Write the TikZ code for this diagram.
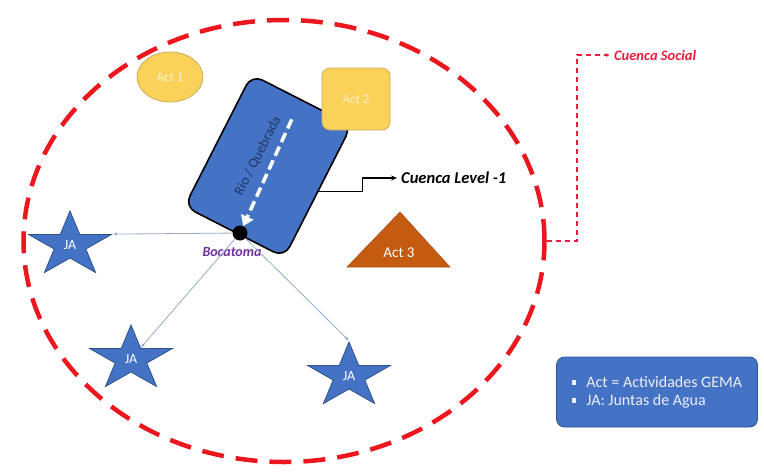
\documentclass[tikz,border=0pt]{standalone}
\usepackage{fontspec}
\setmainfont{Carlito}
\usetikzlibrary{shapes.geometric,arrows.meta,calc}

\definecolor{basinred}{RGB}{236,22,30}
\definecolor{socialred}{RGB}{232,30,60}
\definecolor{shapeblue}{RGB}{68,114,196}
\definecolor{stardraw}{RGB}{47,82,143}
\definecolor{actyellow}{RGB}{250,210,90}
\definecolor{actedge}{RGB}{205,172,96}
\definecolor{acttext}{RGB}{255,240,200}
\definecolor{actorange}{RGB}{197,90,17}
\definecolor{navytext}{RGB}{31,56,100}
\definecolor{intakepurple}{RGB}{112,48,160}
\definecolor{feedgrey}{RGB}{150,170,200}
\definecolor{legendtext}{RGB}{238,238,252}

\newcommand\lgdbullet{\raisebox{2.5pt}{\rule{4.5pt}{4.5pt}}\hspace{10pt}}

\begin{document}
\begin{tikzpicture}[x=1pt,y=-1pt,
  basin/.style={ellipse, draw=basinred, line width=4.5pt,
    dash pattern=on 22pt off 12pt, minimum width=521pt, minimum height=442pt, inner sep=0},
  riverbox/.style={rectangle, draw=black, line width=1.6pt, fill=shapeblue,
    rounded corners=12pt, minimum width=112pt, minimum height=148pt, rotate=-27},
  riverflow/.style={draw=white, line width=3.5pt, dash pattern=on 10pt off 5pt,
    -{Triangle[width=13pt,length=10pt]}},
  rivertext/.style={text=navytext, font=\fontsize{14}{16}\selectfont, rotate=63, inner sep=0},
  actoval/.style={ellipse, fill=actyellow, draw=actedge, line width=0.8pt,
    minimum width=66pt, minimum height=50pt, inner sep=0, text=acttext,
    font=\fontsize{13}{15}\selectfont},
  actbox/.style={rectangle, rounded corners=8pt, fill=actyellow, draw=actedge,
    line width=0.8pt, minimum width=68pt, minimum height=62pt, inner sep=0,
    text=acttext, font=\fontsize{13}{15}\selectfont},
  acttri/.style={fill=actorange, draw=actorange!85!black, line width=0.5pt},
  actlabel/.style={text=white, font=\fontsize{15}{17}\selectfont, inner sep=0},
  intake/.style={circle, fill=black, minimum size=15pt, inner sep=0},
  intaketext/.style={text=intakepurple, font=\bfseries\itshape\fontsize{14}{16}\selectfont, inner sep=0},
  jastar/.style={star, star points=5, star point ratio=2.618, minimum size=68pt,
    inner sep=0, fill=shapeblue, draw=stardraw, line width=0.8pt, xscale=1.28, transform shape},
  jalabel/.style={text=white, font=\fontsize{14}{16}\selectfont, inner sep=0},
  feed/.style={draw=feedgrey, line width=0.8pt, -{Latex[length=4pt,width=3.5pt]}},
  levelline/.style={draw=black, line width=1.4pt, -{Stealth[length=6pt,width=5pt]}},
  leveltext/.style={anchor=west, inner xsep=4pt, inner ysep=2pt,
    font=\bfseries\itshape\fontsize{16.5}{19}\selectfont},
  socialline/.style={draw=socialred, line width=1.5pt, dash pattern=on 5pt off 4pt,
    -{Latex[length=4pt,width=4pt]}},
  socialtext/.style={anchor=west, inner xsep=4pt, inner ysep=2pt, text=socialred,
    font=\bfseries\itshape\fontsize{14.5}{17}\selectfont},
  legendbox/.style={rectangle, rounded corners=8pt, fill=shapeblue, draw=stardraw,
    line width=0.8pt, minimum width=201pt, minimum height=70pt, align=left,
    text=legendtext, font=\fontsize{16}{18}\selectfont}
]
\useasboundingbox (0,0) rectangle (764,472);
\fill[white] (0,0) rectangle (764,472);

% social basin boundary
\node[basin] (basin) at (284,241) {};

% river / stream block and its intake
\node[riverbox] (rio) at (268,166) {};
\node[intake] (boca) at (240,233) {};
\coordinate (riosrc) at ($(rio.north)!0.15!(rio.south)$);
\draw[riverflow] (riosrc) -- (boca);
\node[rivertext] (riolabel) at (258,156) {Rio / Quebrada};
\node[intaketext] (bocalabel) at (232,252) {Bocatoma};

% activities
\node[actoval] (act1) at (170,77) {Act 1};
\node[actbox] (act2) at (356,99) {Act 2};
\coordinate (a3top) at (400,212);
\coordinate (a3right) at (450,267);
\coordinate (a3left) at (347,267);
\path[acttri] (a3top) -- (a3right) -- (a3left) -- cycle;
\node[actlabel] (act3) at (399,253) {Act 3};

% water boards
\node[jastar] (ja1) at (70,245) {};
\node[jastar] (ja2) at (131,359) {};
\node[jastar] (ja3) at (349,376) {};
\node[jalabel] (ja1l) at (ja1) {JA};
\node[jalabel] (ja2l) at (ja2) {JA};
\node[jalabel] (ja3l) at (ja3) {JA};

% supply lines from the intake
\draw[feed] (boca) -- (ja1.outer point 5);
\draw[feed] (boca) -- (ja2);
\draw[feed] (boca) -- (ja3.outer point 1);

% callouts
\node[leveltext] (lvl) at (397,178) {Cuenca Level -1};
\draw[levelline] (rio.east) -- ++(44,0) |- (lvl.west);
\node[socialtext] (soc) at (610,55) {Cuenca Social};
\draw[socialline] (basin.east) -- ++(30,0) |- (soc.west);

% legend
\node[legendbox] (legend) at (657,392)
  {\lgdbullet Act = Actividades GEMA\\ \lgdbullet JA: Juntas de Agua};
\end{tikzpicture}
\end{document}
